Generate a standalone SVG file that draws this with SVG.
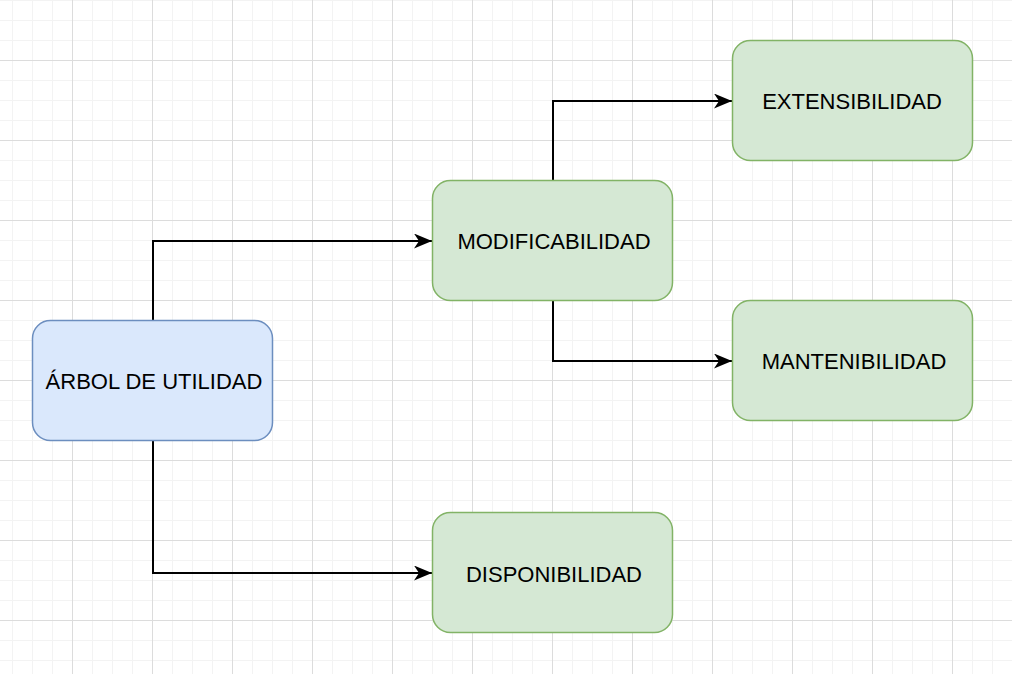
<svg xmlns="http://www.w3.org/2000/svg" width="1012" height="674" viewBox="0 0 1012 674">
<style>
.node rect{stroke-width:1.5}
.blue{fill:#dae8fc;stroke:#6c8ebf}
.green{fill:#d5e8d4;stroke:#82b366}
.lbl{font-family:"Liberation Sans",Arial,sans-serif;font-size:22px;fill:#000;text-anchor:middle;dominant-baseline:central}
.conn path{fill:none;stroke:#000;stroke-width:2;marker-end:url(#arr)}
</style>
<defs>
<pattern id="grid" patternUnits="userSpaceOnUse" x="-8" y="-20" width="80" height="80">
<rect x="20" y="0" width="1" height="80" fill="#f3f3f3"/>
<rect x="40" y="0" width="1" height="80" fill="#f3f3f3"/>
<rect x="60" y="0" width="1" height="80" fill="#f3f3f3"/>
<rect x="0" y="20" width="80" height="1" fill="#f3f3f3"/>
<rect x="0" y="40" width="80" height="1" fill="#f3f3f3"/>
<rect x="0" y="60" width="80" height="1" fill="#f3f3f3"/>
<rect x="0" y="0" width="1" height="80" fill="#dcdcdc"/>
<rect x="0" y="0" width="80" height="1" fill="#dcdcdc"/>
</pattern>
<marker id="arr" markerUnits="userSpaceOnUse" markerWidth="20" markerHeight="16" refX="18" refY="7.5" orient="auto">
<path d="M0,0 L18,7.5 L0,15 L5,7.5 Z" fill="#000"/>
</marker>
</defs>
<rect width="1012" height="674" fill="#fff"/>
<rect width="1012" height="674" fill="url(#grid)"/>
<g id="connectors" class="conn">
<path d="M153,320 V241 H432"/>
<path d="M153,440 V573 H432"/>
<path d="M553,180 V101 H732"/>
<path d="M553,300 V361 H732"/>
</g>
<g id="arbol" class="node">
<rect class="blue" x="32.5" y="320.5" width="240" height="120" rx="18"/>
<text class="lbl" x="154" y="381">ÁRBOL DE UTILIDAD</text>
</g>
<g id="modificabilidad" class="node">
<rect class="green" x="432.5" y="180.5" width="240" height="120" rx="18"/>
<text class="lbl" x="554" y="241">MODIFICABILIDAD</text>
</g>
<g id="extensibilidad" class="node">
<rect class="green" x="732.5" y="40.5" width="240" height="120" rx="18"/>
<text class="lbl" x="852" y="101">EXTENSIBILIDAD</text>
</g>
<g id="mantenibilidad" class="node">
<rect class="green" x="732.5" y="300.5" width="240" height="120" rx="18"/>
<text class="lbl" x="854" y="361">MANTENIBILIDAD</text>
</g>
<g id="disponibilidad" class="node">
<rect class="green" x="432.5" y="512.5" width="240" height="120" rx="18"/>
<text class="lbl" x="554" y="574">DISPONIBILIDAD</text>
</g>
</svg>
